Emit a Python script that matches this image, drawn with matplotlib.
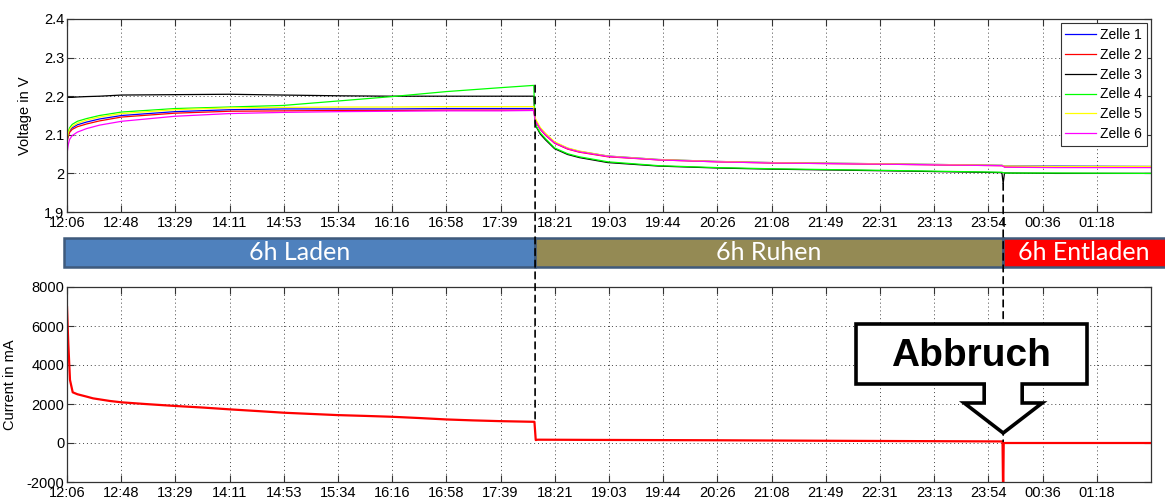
import numpy as np
import matplotlib
matplotlib.use("Agg")
import matplotlib.pyplot as plt
from matplotlib.patches import Rectangle, Polygon, ConnectionPatch

plt.rcParams['font.family'] = ['Liberation Sans', 'DejaVu Sans']

# ---------------------------------------------------------------- data
# time axis in minutes after 12:06
tick_labels = ["12:06", "12:48", "13:29", "14:11", "14:53", "15:34", "16:16",
               "16:58", "17:39", "18:21", "19:03", "19:44", "20:26", "21:08",
               "21:49", "22:31", "23:13", "23:54", "00:36", "01:18"]
tick_step = 792 / 19          # 12:06 -> 01:18 in 19 steps
n_steps = 20                  # axis spans 20 tick steps

# cell voltages (V)
t_volt = [0, 1, 2, 4, 8, 15, 25, 42, 83, 125, 166, 210, 250, 292, 333, 359,
          360, 361, 364, 368, 375, 385, 394, 416, 455, 500, 542, 625, 719,
          720, 721, 760, 834]
v_zelle1 = [2.085, 2.100, 2.110, 2.118, 2.126, 2.133, 2.141, 2.150, 2.160, 2.165,
            2.167, 2.167, 2.167, 2.168, 2.168, 2.168,
            2.140, 2.133, 2.116, 2.101, 2.080, 2.065, 2.057, 2.045, 2.036, 2.031,
            2.028, 2.025, 2.021,
            2.020, 2.019, 2.019, 2.018]
v_zelle2 = [2.080, 2.097, 2.106, 2.114, 2.121, 2.128, 2.136, 2.146, 2.156, 2.161,
            2.162, 2.163, 2.163, 2.164, 2.164, 2.164,
            2.138, 2.131, 2.114, 2.099, 2.078, 2.063, 2.055, 2.043, 2.035, 2.030,
            2.027, 2.024, 2.020,
            2.019, 2.017, 2.016, 2.016]
v_zelle3 = [2.199, 2.197, 2.197, 2.197, 2.198, 2.199, 2.200, 2.203, 2.204, 2.205,
            2.203, 2.201, 2.200, 2.200, 2.200, 2.200,
            2.135, 2.120, 2.102, 2.087, 2.064, 2.049, 2.041, 2.028, 2.019, 2.014,
            2.011, 2.007, 2.002,
            1.974, 2.001, 2.000, 2.000]
v_zelle4 = [2.090, 2.108, 2.118, 2.127, 2.135, 2.142, 2.150, 2.159, 2.168, 2.172,
            2.176, 2.188, 2.199, 2.212, 2.222, 2.228,
            2.130, 2.122, 2.105, 2.090, 2.066, 2.051, 2.043, 2.030, 2.020, 2.015,
            2.012, 2.008, 2.003,
            2.002, 2.001, 2.001, 2.000]
v_zelle5 = [2.090, 2.105, 2.114, 2.122, 2.130, 2.138, 2.146, 2.155, 2.165, 2.170,
            2.171, 2.172, 2.172, 2.173, 2.173, 2.173,
            2.145, 2.137, 2.119, 2.104, 2.082, 2.066, 2.058, 2.045, 2.036, 2.031,
            2.028, 2.025, 2.021,
            2.020, 2.019, 2.018, 2.018]
v_zelle6 = [2.050, 2.075, 2.088, 2.098, 2.107, 2.116, 2.125, 2.135, 2.148, 2.155,
            2.158, 2.160, 2.161, 2.162, 2.162, 2.163,
            2.137, 2.131, 2.115, 2.100, 2.079, 2.064, 2.056, 2.044, 2.035, 2.030,
            2.027, 2.024, 2.020,
            2.019, 2.016, 2.015, 2.015]
cell_names = ["Zelle 1", "Zelle 2", "Zelle 3", "Zelle 4", "Zelle 5", "Zelle 6"]
cell_volts = [v_zelle1, v_zelle2, v_zelle3, v_zelle4, v_zelle5, v_zelle6]
cell_colors = ["#0000ff", "#ff0000", "#000000", "#00ff00", "#ffff00", "#ff00ff"]

# charging current (mA)
t_curr = [0, 0.5, 1, 2.3, 4.4, 8, 15, 20, 33, 42, 60, 83, 104, 125, 146, 167,
          188, 208, 229, 250, 271, 292, 312, 333, 359.5, 360.5, 362, 400, 500,
          600, 719.5, 720, 720.4, 834]
i_curr = [6970, 6000, 5100, 3230, 2600, 2500, 2380, 2290, 2155, 2086, 2000, 1900,
          1820, 1726, 1640, 1552, 1490, 1431, 1390, 1345, 1280, 1207, 1160, 1121,
          1086, 150, 170, 160, 140, 110, 80, -3000, 0, 0]

# test phases (start, end in minutes)
phase_names = ["6h Laden", "6h Ruhen", "6h Entladen"]
phase_edges = [0, 360, 720, 1080]
phase_colors = ["#4f81bd", "#948a54", "#ff0000"]

# ---------------------------------------------------------------- layout
W, H = 1165, 499
fig = plt.figure(figsize=(W / 100, H / 100), dpi=100)


def fx(px):
    return px / W


def fy(py):
    return 1 - py / H


ax_left, ax_right = 67, 1151
ax1 = fig.add_axes([fx(ax_left), fy(212), fx(ax_right) - fx(ax_left), fy(19) - fy(212)])
ax2 = fig.add_axes([fx(ax_left), fy(482), fx(ax_right) - fx(ax_left), fy(287) - fy(482)])

tick_pos = np.arange(len(tick_labels)) * tick_step
x_end = n_steps * tick_step


def style_axes(ax):
    ax.set_xlim(0, x_end)
    ax.set_xticks(tick_pos)
    ax.set_xticklabels(tick_labels)
    ax.tick_params(direction='in', length=5, width=0.8, top=True, right=True,
                   labelsize=10.5, pad=2, color='#333333', labelcolor='black')
    ax.tick_params(axis='x', pad=3)
    ax.grid(True, linestyle=(0, (1, 3)), color='#444444', linewidth=0.7)
    for sp in ax.spines.values():
        sp.set_color('#333333')
        sp.set_linewidth(0.9)


# voltage plot
for name, v, c in zip(cell_names, cell_volts, cell_colors):
    ax1.plot(t_volt, v, color=c, lw=0.9, label=name)
style_axes(ax1)
ax1.set_ylim(1.9, 2.4)
ax1.set_yticks([1.9, 2.0, 2.1, 2.2, 2.3, 2.4])
ax1.set_yticklabels(["1.9", "2", "2.1", "2.2", "2.3", "2.4"])
ax1.set_ylabel("Voltage in V", fontsize=10.5)
ax1.yaxis.set_label_coords(-0.032, 0.5)
leg = ax1.legend(loc='upper right', bbox_to_anchor=(0.9963, 0.979), borderaxespad=0,
                 fontsize=10, handlelength=2.2, handletextpad=0.3, labelspacing=0.42,
                 borderpad=0.35, fancybox=False, framealpha=1)
leg.get_frame().set_edgecolor('#333333')
leg.get_frame().set_linewidth(0.8)

# current plot
ax2.plot(t_curr, i_curr, color='#ff0000', lw=1.6)
style_axes(ax2)
ax2.set_ylim(-2000, 8000)
ax2.set_yticks([-2000, 0, 2000, 4000, 6000, 8000])
ax2.set_yticklabels(["-2000", "0", "2000", "4000", "6000", "8000"])
ax2.set_ylabel("Current in mA", fontsize=10.5)
ax2.yaxis.set_label_coords(-0.046, 0.5)


def data_to_fig_x(t):
    return fx(ax_left) + t / x_end * (fx(ax_right) - fx(ax_left))


# phase bars between the two plots
bar_top, bar_bot = 238, 267
for k, (name, col) in enumerate(zip(phase_names, phase_colors)):
    x0 = data_to_fig_x(phase_edges[k]) - (fx(3) if k == 0 else 0)
    x1 = data_to_fig_x(phase_edges[k + 1])
    fig.add_artist(Rectangle((x0, fy(bar_bot)), x1 - x0, fy(bar_top) - fy(bar_bot),
                             transform=fig.transFigure, facecolor=col,
                             edgecolor='#3f5a7c', linewidth=1.8, zorder=3))
    xc = (x0 + min(x1, 1.0)) / 2 if k < 2 else (x0 + 1.0) / 2
    fig.text(xc, fy((bar_top + bar_bot) / 2), name, color='white', fontsize=18,
             family=['Lato', 'DejaVu Sans'], ha='center', va='center', zorder=4)

# dashed markers at the phase changes
markers = [(360, 2.228, 1086), (720, 1.974, 80)]
for t, v, i in markers:
    con = ConnectionPatch(xyA=(t, v), coordsA=ax1.transData,
                          xyB=(t, i), coordsB=ax2.transData,
                          linestyle=(0, (4, 3)), color='black', lw=1.2, zorder=5)
    fig.add_artist(con)

# "Abbruch" callout pointing at the discharge start
tip_x = data_to_fig_x(720) * W
callout_px = [(856, 324), (1087, 324), (1087, 384), (tip_x + 19, 384), (tip_x + 19, 403),
              (tip_x + 39, 403), (tip_x, 433), (tip_x - 39, 403), (tip_x - 19, 403),
              (tip_x - 19, 384), (856, 384)]
fig.add_artist(Polygon([(fx(x), fy(y)) for x, y in callout_px], closed=True,
                       transform=fig.transFigure, facecolor='white',
                       edgecolor='black', linewidth=2.6, joinstyle='miter', zorder=10))
fig.text(fx(971), fy(356), "Abbruch", fontsize=28, fontweight='bold',
         ha='center', va='center', zorder=11)

fig.savefig("out.png", dpi=100)
